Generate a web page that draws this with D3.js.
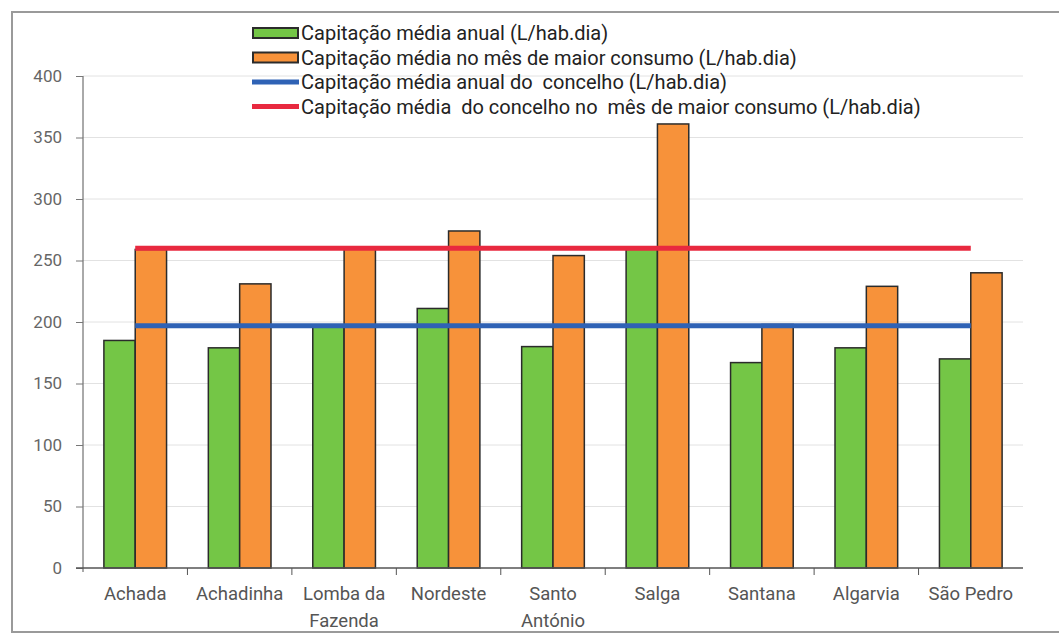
<!DOCTYPE html>
<html>
<head>
<meta charset="utf-8">
<script src="https://cdn.jsdelivr.net/npm/d3@7"></script>
<style>
  body { margin: 0; background: #fff; }
  svg text { font-family: "Roboto", "Liberation Sans", sans-serif; }
</style>
</head>
<body>
<div id="chart"></div>
<script>
// freguesias
var categories = ["Achada", "Achadinha", "Lomba da|Fazenda", "Nordeste", "Santo|António",
  "Salga", "Santana", "Algarvia", "São Pedro"];
// capitação média anual (L/hab.dia)
var anual = [185, 179, 196, 211, 180, 260, 167, 179, 170];
// capitação média no mês de maior consumo (L/hab.dia)
var maxMes = [259, 231, 260, 274, 254, 361, 198, 229, 240];
// médias do concelho
var concelhoAnual = 197;
var concelhoMax = 260;
var yTicks = [0, 50, 100, 150, 200, 250, 300, 350, 400];
var legendLabels = [
  "Capitação média anual (L/hab.dia)",
  "Capitação média no mês de maior consumo (L/hab.dia)",
  "Capitação média anual do  concelho (L/hab.dia)",
  "Capitação média  do concelho no  mês de maior consumo (L/hab.dia)"
];

var W = 1059, H = 636;
var plotLeft = 83, plotRight = 1023, plotTop = 76, plotBottom = 568;

var svg = d3.select("#chart").append("svg")
  .attr("width", W).attr("height", H);

// outer frame
svg.append("rect")
  .attr("x", 12).attr("y", 12)
  .attr("width", 1060).attr("height", 620)
  .attr("fill", "none").attr("stroke", "#9a9a9a").attr("stroke-width", 2);

var x = d3.scaleBand().domain(categories).range([plotLeft, plotRight]).padding(0);
var x1 = d3.scaleBand().domain(["anual", "max"])
  .range([0, x.bandwidth() * 0.6]).padding(0);
var y = d3.scaleLinear().domain([0, 400]).range([plotBottom, plotTop]);
var off = x.bandwidth() * 0.2;

// gridlines
svg.append("g").selectAll("line")
  .data(yTicks.slice(1))
  .enter().append("line")
  .attr("x1", plotLeft).attr("x2", plotRight)
  .attr("y1", function(d) { return y(d); })
  .attr("y2", function(d) { return y(d); })
  .attr("stroke", "#e2e2e2").attr("stroke-width", 1);

// bars
var groups = svg.append("g").selectAll("g")
  .data(categories)
  .enter().append("g")
  .attr("transform", function(d) { return "translate(" + (x(d) + off) + ",0)"; });

groups.append("rect")
  .attr("x", x1("anual"))
  .attr("width", x1.bandwidth())
  .attr("y", function(d, i) { return y(anual[i]); })
  .attr("height", function(d, i) { return y(0) - y(anual[i]); })
  .attr("fill", "#74c646").attr("stroke", "#2b2b2b").attr("stroke-width", 1.5);

groups.append("rect")
  .attr("x", x1("max"))
  .attr("width", x1.bandwidth())
  .attr("y", function(d, i) { return y(maxMes[i]); })
  .attr("height", function(d, i) { return y(0) - y(maxMes[i]); })
  .attr("fill", "#f7923a").attr("stroke", "#2b2b2b").attr("stroke-width", 1.5);

// concelho lines
var xc = function(d) { return x(d) + x.bandwidth() / 2; };
var first = categories[0], last = categories[categories.length - 1];
svg.append("line")
  .attr("x1", xc(first)).attr("x2", xc(last))
  .attr("y1", y(concelhoMax)).attr("y2", y(concelhoMax))
  .attr("stroke", "#e8293f").attr("stroke-width", 5);
svg.append("line")
  .attr("x1", xc(first)).attr("x2", xc(last))
  .attr("y1", y(concelhoAnual)).attr("y2", y(concelhoAnual))
  .attr("stroke", "#2f62b5").attr("stroke-width", 5);

// y axis
var yAxis = svg.append("g")
  .attr("transform", "translate(" + plotLeft + ",0)")
  .call(d3.axisLeft(y).tickValues(yTicks).tickSize(7).tickPadding(14));
yAxis.select(".domain").attr("stroke", "#555").attr("d", "M0," + plotTop + "V" + (plotBottom + 4));
yAxis.selectAll(".tick line").attr("stroke", "#777");
yAxis.selectAll("text").attr("fill", "#666").style("font-size", "17px");

// x axis
var xAxis = svg.append("g")
  .attr("transform", "translate(0," + plotBottom + ")");
xAxis.append("line")
  .attr("x1", plotLeft - 7).attr("x2", plotRight)
  .attr("stroke", "#555").attr("stroke-width", 1.5);
xAxis.selectAll(".xt")
  .data(categories.slice(1))
  .enter().append("line")
  .attr("class", "xt")
  .attr("x1", function(d) { return x(d); })
  .attr("x2", function(d) { return x(d); })
  .attr("y1", 0).attr("y2", 7)
  .attr("stroke", "#555");

var labels = xAxis.selectAll(".xl")
  .data(categories)
  .enter().append("text")
  .attr("class", "xl")
  .attr("x", xc)
  .attr("y", 32)
  .attr("text-anchor", "middle")
  .attr("fill", "#555")
  .style("font-size", "18.5px");
labels.each(function(d) {
  var parts = d.split("|");
  var t = d3.select(this);
  parts.forEach(function(p, j) {
    t.append("tspan").attr("x", xc(d)).attr("dy", j == 0 ? 0 : 27).text(p);
  });
});

// legend
var legend = svg.append("g");
legendLabels.forEach(function(lab, i) {
  var ly = 33 + i * 24.5;
  if (i == 0 || i == 1) {
    legend.append("rect")
      .attr("x", 253).attr("y", ly - 5)
      .attr("width", 45).attr("height", 10)
      .attr("fill", i == 0 ? "#74c646" : "#f7923a")
      .attr("stroke", "#2b2b2b").attr("stroke-width", 2);
  } else {
    legend.append("line")
      .attr("x1", 252).attr("x2", 299)
      .attr("y1", ly).attr("y2", ly)
      .attr("stroke", i == 2 ? "#2f62b5" : "#e8293f")
      .attr("stroke-width", 5);
  }
  legend.append("text")
    .attr("x", 301).attr("y", ly + 7)
    .attr("fill", "#222")
    .style("font-size", "20px")
    .style("white-space", "pre")
    .attr("xml:space", "preserve")
    .text(lab);
});
</script>
</body>
</html>
